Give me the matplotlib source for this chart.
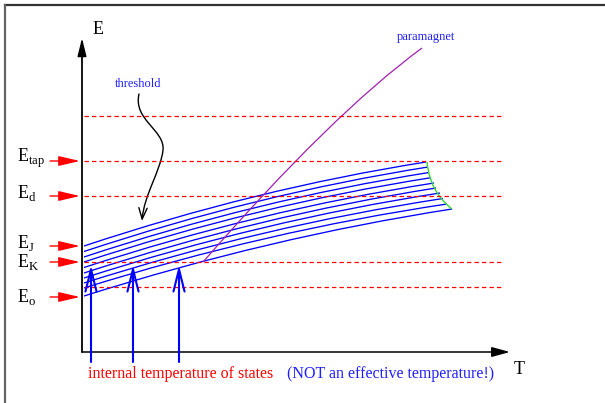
import matplotlib.pyplot as plt
from matplotlib.patches import FancyArrowPatch, PathPatch
from matplotlib.path import Path

plt.rcParams['font.family'] = 'Liberation Serif'
plt.rcParams['mathtext.fontset'] = 'custom'
plt.rcParams['mathtext.rm'] = 'Liberation Serif'

# schematic units: T to the right, E upwards, origin at the axes corner
dashed_E = [236, 191, 156, 90, 65]
dashed_T = [2, 420]

label_names = ['tap', 'd', 'J', 'K', 'o']
label_E = [191, 156, 106, 90, 55]
label_text_E = [190, 154, 104, 85, 50]

# blue family of states: start energy at T=2, end point (T, E)
state_E0 = [106, 100.5, 95, 90, 84.5, 79, 74, 69, 64, 56]
state_T1 = [344, 346, 347, 349, 352, 354, 358, 361, 365, 370]
state_E1 = [190, 185, 179.5, 174.3, 169, 164, 159, 153.5, 148, 143]
state_bow = 15

# green edge through the ends of the states
green_T = [345, 348, 370]
green_E = [190, 160, 143]

# paramagnet curve (start, control, end)
para_T = [121, 250, 340]
para_E = [90, 238, 304]

# wavy "threshold" arrow (cubic bezier points)
thr_T = [57, 51, 83, 81, 79, 62, 60]
thr_E = [258, 232, 222, 202, 182, 157, 131]

# internal temperatures of the states
temp_T = [9, 51, 97]
temp_E0 = -10
temp_E1 = 87


def draw():
    fig = plt.figure(figsize=(6.05, 4.03), dpi=100)
    ax = fig.add_axes([0, 0, 1, 1])
    ax.set_xlim(-82, 523)
    ax.set_ylim(-51, 352)
    ax.axis('off')

    # frame
    ax.plot([-77, 523], [347, 347], color='#333333', lw=1.6)
    ax.plot([-77, -77], [-51, 347], color='#666666', lw=1.6)

    # axes
    ax.annotate('', xy=(0, 314), xytext=(0, 0),
                arrowprops=dict(arrowstyle='-|>,head_length=1.1,head_width=0.27',
                                color='black', lw=1.1, shrinkA=0, shrinkB=0,
                                mutation_scale=10))
    ax.plot([0, 0], [0, 300], color='#555555', lw=1.2)
    ax.annotate('', xy=(428, 0), xytext=(0, 0),
                arrowprops=dict(arrowstyle='-|>,head_length=1.1,head_width=0.3',
                                color='black', lw=1.1, shrinkA=0, shrinkB=0,
                                mutation_scale=10))
    ax.text(16, 322, 'E', fontsize=13, ha='center', va='center')
    ax.text(437, -17, 'T', fontsize=13, ha='center', va='center')

    # dashed levels
    for e in dashed_E:
        ax.plot(dashed_T, [e, e], color='red', lw=0.9, ls=(0, (3.5, 2.5)))

    # labelled energies
    for name, e, et in zip(label_names, label_E, label_text_E):
        ax.annotate('', xy=(-2, e), xytext=(-32, e),
                    arrowprops=dict(arrowstyle='-|>,head_length=1.3,head_width=0.3',
                                    color='red', lw=1.0, shrinkA=0, shrinkB=0,
                                    mutation_scale=10))
        ax.text(-65, et, r'$\mathrm{E}_{\mathrm{%s}}$' % name, fontsize=13,
                ha='left', va='baseline')

    # family of states
    for e0, t1, e1 in zip(state_E0, state_T1, state_E1):
        ctrl = ((2 + t1) / 2, (e0 + e1) / 2 + state_bow)
        p = Path([(2, e0), ctrl, (t1, e1)],
                 [Path.MOVETO, Path.CURVE3, Path.CURVE3])
        ax.add_patch(PathPatch(p, fill=False, edgecolor='blue', lw=0.95))

    p = Path(list(zip(green_T, green_E)), [Path.MOVETO, Path.CURVE3, Path.CURVE3])
    ax.add_patch(PathPatch(p, fill=False, edgecolor='#33dd33', lw=1.0))

    # paramagnet
    p = Path(list(zip(para_T, para_E)), [Path.MOVETO, Path.CURVE3, Path.CURVE3])
    ax.add_patch(PathPatch(p, fill=False, edgecolor='#a020b0', lw=0.9))
    ax.text(344, 315, 'paramagnet', fontsize=9, color='#2020ff',
            ha='center', va='center')

    # threshold
    p = Path(list(zip(thr_T, thr_E)),
             [Path.MOVETO] + [Path.CURVE4] * 6)
    ax.add_patch(FancyArrowPatch(path=p,
                                 arrowstyle='->,head_length=0.8,head_width=0.3',
                                 color='black', lw=1.0, mutation_scale=10))
    ax.text(56, 268, 'threshold', fontsize=9, color='#2020ff',
            ha='center', va='center')

    # internal temperature arrows
    for t in temp_T:
        ax.annotate('', xy=(t, temp_E1), xytext=(t, temp_E0),
                    arrowprops=dict(arrowstyle='->,head_length=1.6,head_width=0.4',
                                    color='blue', lw=1.5, shrinkA=0, shrinkB=0,
                                    mutation_scale=10))

    ax.text(6, -26, 'internal temperature of states', fontsize=11.5,
            color='red', ha='left', va='baseline')
    ax.text(205, -26, '(NOT an effective temperature!)', fontsize=11.5,
            color='#2020ff', ha='left', va='baseline')

    fig.savefig('out.png', dpi=100)


if __name__ == "__main__":
    draw()
